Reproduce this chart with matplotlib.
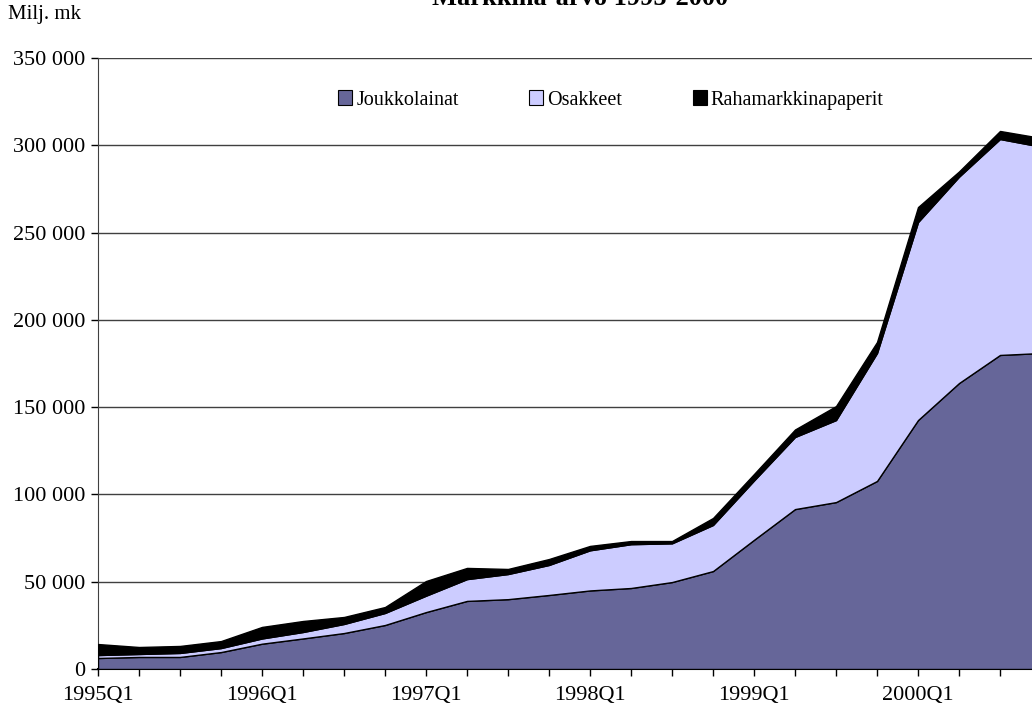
import matplotlib
matplotlib.use("Agg")
import matplotlib.pyplot as plt
import numpy as np
from matplotlib.patches import Patch
from matplotlib.ticker import FuncFormatter

quarters = [f"{y}Q{q}" for y in range(1995, 2001) for q in range(1, 5)]

joukkolainat = [6300, 6900, 6900, 9700, 14500, 17500, 20600, 25200, 32600, 39000, 40000, 42400,
                45000, 46400, 49800, 56100, 74000, 91600, 95600, 107700, 142600, 163800, 179900, 181000]
osakkeet = [1700, 1700, 2300, 2300, 3000, 3700, 5200, 6900, 9400, 12500, 14400, 17200,
            23000, 25100, 22200, 26400, 34000, 41300, 47000, 73300, 113400, 118200, 123700, 118200]
rahamarkkina = [6300, 4000, 4000, 4000, 6600, 6300, 4000, 3400, 8400, 6400, 2900, 3400,
                2500, 1800, 1300, 4000, 3700, 4300, 8000, 6300, 8600, 3000, 4600, 5000]

names = ["Joukkolainat", "Osakkeet", "Rahamarkkinapaperit"]
colors = ["#666699", "#CCCCFF", "#000000"]

plt.rcParams["font.family"] = ["Liberation Serif", "DejaVu Serif"]

fig = plt.figure(figsize=(10.32, 7.13), dpi=100)
# axes runs a bit past the right edge, like the cropped original
ax = fig.add_axes([98 / 1032, 44 / 713, 943 / 1032, 611 / 713])

x = np.arange(len(quarters))
ax.stackplot(x, joukkolainat, osakkeet, rahamarkkina, colors=colors,
             edgecolor="black", linewidth=1.0, zorder=3)

ax.set_xlim(0, len(quarters) - 1)
ax.set_ylim(0, 350000)
ax.set_yticks(np.arange(0, 350001, 50000))
ax.yaxis.set_major_formatter(FuncFormatter(lambda v, p: f"{v:,.0f}".replace(",", " ")))
ax.set_xticks(x)
ax.set_xticklabels([q if q.endswith("Q1") else "" for q in quarters])

ax.grid(axis="y", color="#404040", linewidth=1.0)
ax.set_axisbelow(True)
for s in ["top", "right"]:
    ax.spines[s].set_visible(False)
ax.spines["left"].set_color("#404040")
ax.spines["bottom"].set_color("black")
ax.spines["bottom"].set_linewidth(1.5)
ax.tick_params(axis="both", direction="out", length=5, width=1, labelsize=16, colors="black")
ax.tick_params(axis="x", pad=7)
ax.tick_params(axis="y", pad=4)

fig.text(0.562, 0.993, "Markkina-arvo 1995-2000", ha="center", va="baseline",
         fontsize=19, fontweight="bold")
fig.text(8 / 1032, 1 - 15 / 713, "Milj. mk", ha="left", va="center", fontsize=15)

handles = [Patch(facecolor=c, edgecolor="black", linewidth=0.8) for c in colors]
fig.legend(handles, names, loc="center", bbox_to_anchor=(611 / 1032, 1 - 100 / 713),
           ncol=3, frameon=False, fontsize=14.5, handlelength=0.7, handleheight=0.7,
           handletextpad=0.2, columnspacing=3.5)

fig.savefig("out.png", dpi=100)
